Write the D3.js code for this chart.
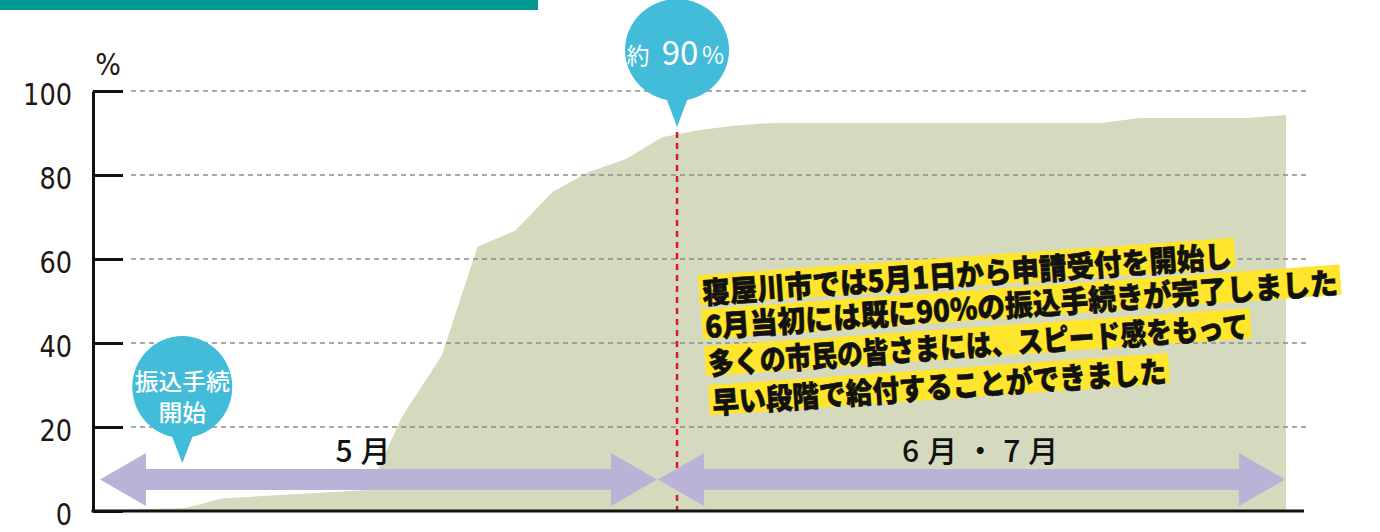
<!DOCTYPE html>
<html><head><meta charset="utf-8">
<script src="https://cdn.jsdelivr.net/npm/d3@7"></script>
<style>body{margin:0;background:#fff;} svg{display:block}</style>
</head><body>
<svg id="c" width="1380" height="532"></svg>
<script>
// ---- data ----
const days  = [1, 4.4, 6.4, 14.6, 16.5, 18.7, 20.7, 22.8, 24.9, 26.9, 29, 31, 34.7, 38, 41.75, 74, 77.7, 88.4, 92];
const rates = [0.3, 0.7, 3.0, 5.0, 22.6, 37, 63, 66.7, 76, 80.7, 83.8, 89, 90.7, 91.7, 92.4, 92.4, 93.6, 93.6, 94.3];
const yTicks = [0, 20, 40, 60, 80, 100];
const gridTicks = [20, 40, 60, 80, 100];
const yUnit = "%";
const periods = ["5月", "6月・7月"];
const periodStart = [-0.4, 30.78];
const periodEnd = [30.72, 91.9];
const periodLabelDay = [14.3, 62.1];
const markerDay = 32.47;
const markerValue = 90;
const markerLabel = ["約", "90", "%"];
const startDay = 4.2;
const startLabel = ["振込手続", "開始"];
const noteLines = [
  "寝屋川市では5月1日から申請受付を開始し",
  "6月当初には既に90%の振込手続きが完了しました",
  "多くの市民の皆さまには、スピード感をもって",
  "早い段階で給付することができました"
];

// ---- layout ----
const svg = d3.select("#c");
const x = d3.scaleLinear().domain([1, 31, 92]).range([125, 662, 1286]);
const y = d3.scaleLinear().domain([0, 100]).range([511, 91]);
const axisX = 93, gridX0 = 131, gridX1 = 1306;
const jp = "'Noto Sans CJK JP','Noto Sans',sans-serif";

// teal header bar
svg.append("rect").attr("x", 0).attr("y", 0).attr("width", 538).attr("height", 10).attr("fill", "#009891");

// area
const data = days.map((d, i) => ({day: d, rate: rates[i]}));
svg.append("path").datum(data)
  .attr("fill", "#d5d9bd")
  .attr("d", d3.area().x(d => x(d.day)).y0(y(0)).y1(d => y(d.rate)));

// gridlines
svg.append("g").selectAll("line").data(gridTicks).join("line")
  .attr("x1", gridX0).attr("x2", gridX1)
  .attr("y1", d => y(d)).attr("y2", d => y(d))
  .attr("stroke", "#8c8c8c").attr("stroke-width", 1.3).attr("stroke-dasharray", "5,4");

// red marker line
svg.append("line")
  .attr("x1", x(markerDay)).attr("x2", x(markerDay))
  .attr("y1", y(markerValue) - 1).attr("y2", y(0))
  .attr("stroke", "#d7192b").attr("stroke-width", 2.5).attr("stroke-dasharray", "6,5");

// period arrows
const arrowHalf = 10.5, headHalf = 26.5, headLen = 46;
const arrowY = 479.5;
function arrowPath(x0, x1) {
  const cy = arrowY;
  return `M${x0},${cy} L${x0 + headLen},${cy - headHalf} L${x0 + headLen},${cy - arrowHalf}
          L${x1 - headLen},${cy - arrowHalf} L${x1 - headLen},${cy - headHalf} L${x1},${cy}
          L${x1 - headLen},${cy + headHalf} L${x1 - headLen},${cy + arrowHalf}
          L${x0 + headLen},${cy + arrowHalf} L${x0 + headLen},${cy + headHalf} Z`;
}
svg.append("g").selectAll("path").data(periods).join("path")
  .attr("d", (d, i) => arrowPath(x(periodStart[i]), x(periodEnd[i])))
  .attr("fill", "#bab3d7");

svg.append("g").selectAll("text").data(periods).join("text")
  .attr("x", (d, i) => x(periodLabelDay[i]) + 4)
  .attr("y", 462)
  .attr("text-anchor", "middle")
  .attr("font-family", jp).attr("font-size", 30).attr("font-weight", 500)
  .attr("letter-spacing", 8).attr("fill", "#111")
  .text(d => d);

// bubbles
const bubbleColor = "#42bcd8";
function bubble(cx, tipY, rx, ry, gap) {
  const g = svg.append("g");
  const cy = tipY - gap - ry;
  g.append("ellipse").attr("cx", cx).attr("cy", cy).attr("rx", rx).attr("ry", ry).attr("fill", bubbleColor);
  g.append("path").attr("d", `M${cx - 12},${cy + ry - 6} L${cx + 12},${cy + ry - 6} L${cx},${tipY} Z`).attr("fill", bubbleColor);
  return {g, cy};
}
// 約90% bubble
{
  const bx = x(markerDay);
  const {g} = bubble(bx, y(markerValue) - 6, 52, 51, 26);
  g.append("text").attr("x", bx - 39).attr("y", 64).attr("text-anchor", "middle")
    .attr("font-family", jp).attr("font-size", 23).attr("fill", "#fff").text(markerLabel[0]);
  g.append("text").attr("x", bx + 3).attr("y", 65).attr("text-anchor", "middle")
    .attr("font-family", jp).attr("font-size", 33).attr("fill", "#fff").text(markerLabel[1]);
  g.append("text").attr("x", bx + 36).attr("y", 64).attr("text-anchor", "middle")
    .attr("font-family", jp).attr("font-size", 24).attr("fill", "#fff").text(markerLabel[2]);
}
// 振込手続 開始 bubble
{
  const bx = x(startDay);
  const {g, cy} = bubble(bx, 463, 50, 51, 25);
  g.selectAll("text").data(startLabel).join("text")
    .attr("x", bx).attr("y", (d, i) => cy + 3 + i * 31)
    .attr("text-anchor", "middle")
    .attr("font-family", jp).attr("font-size", 23).attr("font-weight", 500).attr("fill", "#fff")
    .attr("textLength", (d) => d.length * 23.8).attr("lengthAdjust", "spacingAndGlyphs")
    .text(d => d);
}

// y axis
const yAxis = d3.axisLeft(y).tickValues(yTicks).tickSize(-30).tickSizeOuter(0).tickPadding(21);
const ga = svg.append("g").attr("transform", `translate(${axisX},0)`).call(yAxis);
ga.select(".domain").attr("stroke", "#111").attr("stroke-width", 3);
ga.selectAll(".tick line").attr("stroke", "#111").attr("stroke-width", 3);
ga.selectAll(".tick text")
  .attr("font-family", "'Liberation Sans Narrow','DejaVu Sans Condensed',sans-serif")
  .attr("font-size", 31).attr("fill", "#231815").attr("dy", "0.42em")
  .attr("textLength", d => String(d).length * 16.3).attr("lengthAdjust", "spacingAndGlyphs");
svg.append("text").attr("x", axisX + 15).attr("y", 75).attr("text-anchor", "middle")
  .attr("font-family", "'Liberation Sans Narrow','DejaVu Sans Condensed',sans-serif")
  .attr("font-size", 30).attr("fill", "#231815").text(yUnit);

// baseline
svg.append("line").attr("x1", axisX - 1.5).attr("x2", gridX1 - 2)
  .attr("y1", y(0)).attr("y2", y(0)).attr("stroke", "#111").attr("stroke-width", 3);

// notes: highlight bands first, then the text on top
const noteX = [702, 705, 708, 712];
const noteY = [290, 324, 361, 400];
const noteW = [531, 634, 541, 455];
const tf = (d, i) => `translate(${noteX[i]},${noteY[i]}) rotate(-4)`;
svg.append("g").selectAll("rect").data(noteLines).join("rect")
  .attr("transform", tf)
  .attr("x", -3).attr("y", -15).attr("width", (d, i) => noteW[i] + 6).attr("height", 30).attr("fill", "#ffe52b");
svg.append("g").selectAll("text").data(noteLines).join("text")
  .attr("transform", tf)
  .attr("x", 0).attr("y", 1).attr("dominant-baseline", "central")
  .attr("font-family", jp).attr("font-size", 30).attr("font-weight", 900).attr("fill", "#111")
  .attr("stroke", "#111").attr("stroke-width", 0.6)
  .attr("textLength", (d, i) => noteW[i]).attr("lengthAdjust", "spacingAndGlyphs")
  .text(d => d);
</script>
</body></html>
